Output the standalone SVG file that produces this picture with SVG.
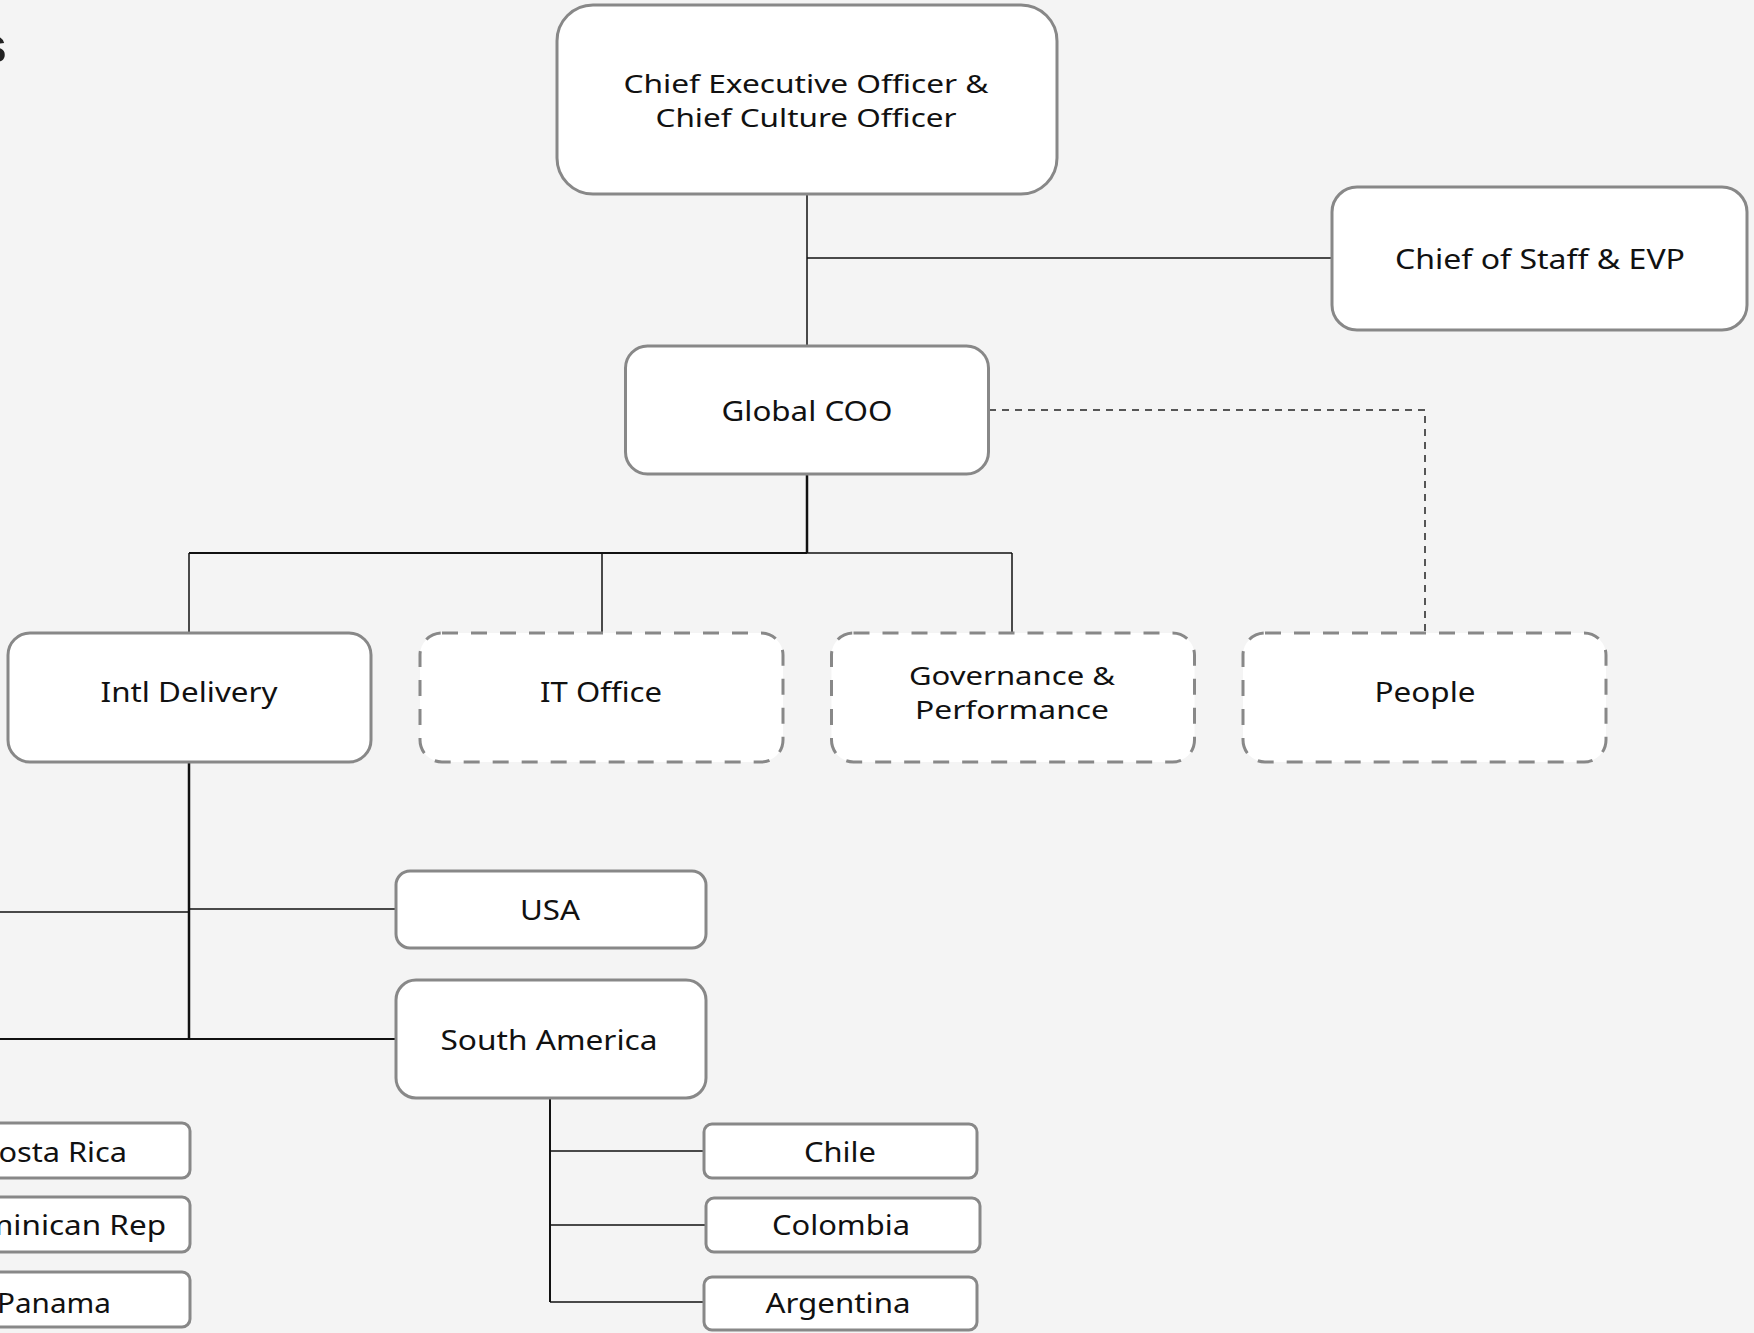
<svg xmlns="http://www.w3.org/2000/svg" width="1754" height="1333" viewBox="0 0 1754 1333">
<style>
.box{fill:#ffffff;stroke:#888888;stroke-width:3}
.dbox{fill:#ffffff;stroke:#888888;stroke-width:3;stroke-dasharray:16 13}
.lbl{font-family:"Noto Sans","Open Sans","DejaVu Sans",sans-serif;font-size:28px;fill:#111111;text-anchor:middle}
.two{font-size:25px}
.ln{fill:none;stroke:#111111;stroke-width:1.5}
.thk{fill:none;stroke:#111111;stroke-width:2.5}
.dash{fill:none;stroke:#222222;stroke-width:1.5;stroke-dasharray:7 6}
.title{font-family:"Liberation Sans",Arial,sans-serif;font-weight:bold;font-size:50px;fill:#222222}
</style>
<rect x="0" y="0" width="1754" height="1333" fill="#f4f4f4"/>
<text class="title" x="-21" y="63">s</text>
<g id="connectors">
<path class="ln" d="M807 194 V346"/>
<path class="ln" d="M807 258 H1332"/>
<path class="thk" d="M807 474 V553"/>
<path class="thk" d="M189 553 H807" style="stroke-width:2"/>
<path class="ln" d="M807 553 H1012"/>
<path class="ln" d="M189 553 V632 M602 553 V632 M1012 553 V632"/>
<path class="dash" d="M989 410 H1425 V632"/>
<path class="thk" d="M189 762 V1039"/>
<path class="ln" d="M-5 912 H189 M189 909 H396"/>
<path class="thk" d="M-5 1039 H396" style="stroke-width:2"/>
<path class="thk" d="M550 1098 V1302" style="stroke-width:2"/>
<path class="ln" d="M550 1151 H704 M550 1225 H706 M550 1302 H704"/>
</g>
<g id="ceo">
<rect class="box" x="557" y="5" width="500" height="189" rx="36"/>
<text class="lbl two" x="806" y="93" textLength="365" lengthAdjust="spacingAndGlyphs">Chief Executive Officer &amp;</text>
<text class="lbl two" x="806" y="127" textLength="301" lengthAdjust="spacingAndGlyphs">Chief Culture Officer</text>
</g>
<g id="chief-of-staff">
<rect class="box" x="1332" y="187" width="415" height="143" rx="25"/>
<text class="lbl" x="1540" y="269" textLength="290" lengthAdjust="spacingAndGlyphs">Chief of Staff &amp; EVP</text>
</g>
<g id="global-coo">
<rect class="box" x="625.5" y="346" width="363" height="128" rx="22"/>
<text class="lbl" x="807" y="421" textLength="171" lengthAdjust="spacingAndGlyphs">Global COO</text>
</g>
<g id="intl-delivery">
<rect class="box" x="8" y="633" width="363" height="129" rx="22"/>
<text class="lbl" x="189" y="702" textLength="177" lengthAdjust="spacingAndGlyphs">Intl Delivery</text>
</g>
<g id="it-office">
<rect class="dbox" x="420" y="633" width="363" height="129" rx="22"/>
<text class="lbl" x="601" y="702" textLength="122" lengthAdjust="spacingAndGlyphs">IT Office</text>
</g>
<g id="governance">
<rect class="dbox" x="831.5" y="633" width="363" height="129" rx="22"/>
<text class="lbl two" x="1012" y="685" textLength="206" lengthAdjust="spacingAndGlyphs">Governance &amp;</text>
<text class="lbl two" x="1012" y="719" textLength="194" lengthAdjust="spacingAndGlyphs">Performance</text>
</g>
<g id="people">
<rect class="dbox" x="1243" y="633" width="363" height="129" rx="22"/>
<text class="lbl" x="1425" y="702" textLength="101" lengthAdjust="spacingAndGlyphs">People</text>
</g>
<g id="usa">
<rect class="box" x="396" y="871" width="310" height="77" rx="14"/>
<text class="lbl" x="550" y="920" textLength="60" lengthAdjust="spacingAndGlyphs">USA</text>
</g>
<g id="south-america">
<rect class="box" x="396" y="980" width="310" height="118" rx="20"/>
<text class="lbl" x="549" y="1050" textLength="217" lengthAdjust="spacingAndGlyphs">South America</text>
</g>
<g id="costa-rica">
<rect class="box" x="-83" y="1123" width="273" height="55" rx="8"/>
<text class="lbl" x="127" y="1162" style="text-anchor:end" textLength="148" lengthAdjust="spacingAndGlyphs">Costa Rica</text>
</g>
<g id="dominican-rep">
<rect class="box" x="-83" y="1197" width="273" height="55" rx="8"/>
<text class="lbl" x="166" y="1235" style="text-anchor:end" textLength="224" lengthAdjust="spacingAndGlyphs">Dominican Rep</text>
</g>
<g id="panama">
<rect class="box" x="-83" y="1272" width="273" height="55" rx="8"/>
<text class="lbl" x="111" y="1313" style="text-anchor:end" textLength="114" lengthAdjust="spacingAndGlyphs">Panama</text>
</g>
<g id="chile">
<rect class="box" x="704" y="1124" width="273" height="54" rx="8"/>
<text class="lbl" x="840" y="1162" textLength="72" lengthAdjust="spacingAndGlyphs">Chile</text>
</g>
<g id="colombia">
<rect class="box" x="706" y="1198" width="274" height="54" rx="8"/>
<text class="lbl" x="841" y="1235" textLength="138" lengthAdjust="spacingAndGlyphs">Colombia</text>
</g>
<g id="argentina">
<rect class="box" x="704" y="1277" width="273" height="53" rx="8"/>
<text class="lbl" x="838" y="1313" textLength="145" lengthAdjust="spacingAndGlyphs">Argentina</text>
</g>
</svg>
